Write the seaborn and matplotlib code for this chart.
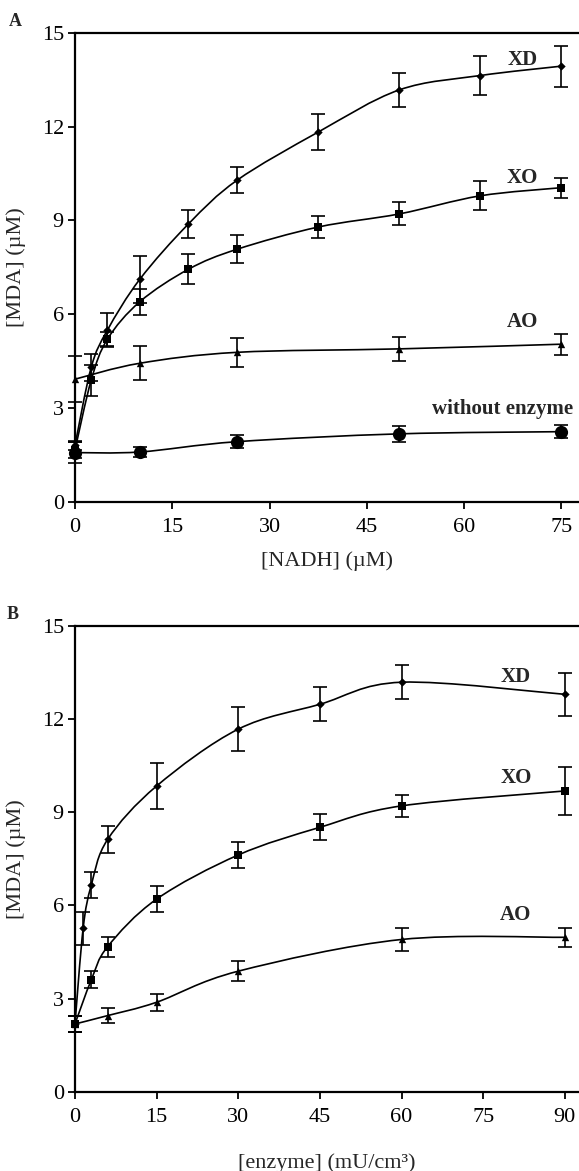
"""
MDA formation: panel A vs NADH, panel B vs enzyme amount
"""
import numpy as np
import matplotlib
matplotlib.use("Agg")
import matplotlib.pyplot as plt
import seaborn as sns
from matplotlib.path import Path
from matplotlib.patches import PathPatch

# ---- panel A data ([NADH] in uM) ----
nadh_x = [0, 2.5, 5, 10, 17.5, 25, 37.5, 50, 62.5, 75]
xd_a = [1.8, 4.3, 5.49, 7.12, 8.89, 10.29, 11.83, 13.18, 13.64, 13.94]
xd_a_err = [0.15, 0.43, 0.55, 0.75, 0.45, 0.42, 0.59, 0.55, 0.63, 0.66]
xo_a = [1.65, 3.89, 5.2, 6.4, 7.44, 8.08, 8.79, 9.21, 9.79, 10.05]
xo_a_err = [0.25, 0.5, 0.22, 0.42, 0.48, 0.44, 0.36, 0.37, 0.46, 0.32]
ao_a_x = [0, 10, 25, 50, 75]
ao_a = [3.92, 4.43, 4.78, 4.89, 5.04]
ao_a_err = [0.73, 0.55, 0.46, 0.39, 0.34]
noenz_x = [0, 10, 25, 50, 75]
noenz = [1.57, 1.59, 1.92, 2.17, 2.24]
noenz_err = [0.33, 0.17, 0.2, 0.25, 0.2]

# ---- panel B data ([enzyme] in mU/cm3) ----
xd_b_x = [0, 1.5, 3, 6, 15, 30, 45, 60, 90]
xd_b = [2.18, 5.26, 6.65, 8.12, 9.84, 11.67, 12.47, 13.18, 12.79]
xd_b_err = [0.25, 0.53, 0.43, 0.43, 0.75, 0.7, 0.55, 0.55, 0.7]
xo_b_x = [0, 3, 6, 15, 30, 45, 60, 90]
xo_b = [2.18, 3.6, 4.67, 6.2, 7.62, 8.51, 9.2, 9.68]
xo_b_err = [0.25, 0.27, 0.32, 0.42, 0.43, 0.42, 0.36, 0.78]
ao_b_x = [0, 6, 15, 30, 60, 90]
ao_b = [2.18, 2.45, 2.88, 3.88, 4.9, 4.97]
ao_b_err = [0.25, 0.25, 0.27, 0.33, 0.37, 0.31]

sns.set_style("ticks")
plt.rcParams['font.family'] = ['Liberation Serif', 'DejaVu Serif']
plt.rcParams['font.size'] = 16


def smooth_curve(ax, x, y):
    """Excel-like smoothed line (Catmull-Rom as cubic Bezier)"""
    pts = np.column_stack([x, y]).astype(float)
    verts = [pts[0]]
    codes = [Path.MOVETO]
    n = len(pts)
    for i in range(n - 1):
        p0 = pts[i - 1] if i > 0 else pts[i]
        p1, p2 = pts[i], pts[i + 1]
        p3 = pts[i + 2] if i + 2 < n else pts[i + 1]
        verts += [p1 + (p2 - p0) / 6, p2 - (p3 - p1) / 6, p2]
        codes += [Path.CURVE4] * 3
    ax.add_patch(PathPatch(Path(verts, codes), facecolor='none',
                           edgecolor='black', lw=1.2, zorder=2))


def draw_series(ax, x, y, err, marker, size):
    smooth_curve(ax, x, y)
    ax.errorbar(x, y, yerr=err, fmt='none', ecolor='black', elinewidth=1.2,
                capsize=5, capthick=1.2, zorder=3, clip_on=False)
    sns.scatterplot(x=x, y=y, marker=marker, s=size, color='black',
                    edgecolor='black', linewidth=0, ax=ax, zorder=4,
                    clip_on=False, legend=False)


def style_axes(ax, xmax, xticks):
    ax.set_xlim(0, xmax)
    ax.set_ylim(0, 15)
    ax.set_xticks(xticks)
    ax.set_yticks([0, 3, 6, 9, 12, 15])
    for side in ['left', 'bottom', 'top']:
        ax.spines[side].set_linewidth(1.6)
        ax.spines[side].set_color('black')
    ax.spines['right'].set_visible(False)
    ax.tick_params(axis='both', direction='out', length=5, width=1.3,
                   labelsize=16, colors='black')
    ax.tick_params(axis='x', pad=7)
    ax.tick_params(axis='y', pad=3)
    ax.set_ylabel('[MDA] (µM)', fontsize=16)
    ax.yaxis.set_label_coords(-0.098, 0.5)


fig = plt.figure(figsize=(5.79, 11.71), dpi=100)

# ---- panel A ----
ax1 = fig.add_axes([0.1295, 0.5716, 0.8705, 0.4002])
draw_series(ax1, nadh_x, xd_a, xd_a_err, 'D', 18)
draw_series(ax1, nadh_x, xo_a, xo_a_err, 's', 30)
draw_series(ax1, ao_a_x, ao_a, ao_a_err, '^', 28)
draw_series(ax1, noenz_x, noenz, noenz_err, 'o', 90)
style_axes(ax1, 77.7, [0, 15, 30, 45, 60, 75])
ax1.set_xlabel('[NADH] (µM)', fontsize=16)
ax1.xaxis.set_label_coords(0.5, -0.105)

lab = dict(fontsize=15, fontweight='bold', ha='center', va='center')
ax1.text(69, 14.13, 'XD', **lab)
ax1.text(69, 10.37, 'XO', **lab)
ax1.text(69, 5.76, 'AO', **lab)
ax1.text(65.9, 2.96, 'without enzyme', **lab)

# ---- panel B ----
ax2 = fig.add_axes([0.1295, 0.0677, 0.8705, 0.398])
draw_series(ax2, xd_b_x, xd_b, xd_b_err, 'D', 18)
draw_series(ax2, xo_b_x, xo_b, xo_b_err, 's', 30)
draw_series(ax2, ao_b_x, ao_b, ao_b_err, '^', 28)
style_axes(ax2, 92.6, [0, 15, 30, 45, 60, 75, 90])
ax2.set_xlabel('[enzyme] (mU/cm³)', fontsize=16)
ax2.xaxis.set_label_coords(0.5, -0.132)

ax2.text(81, 13.34, 'XD', **lab)
ax2.text(81, 10.09, 'XO', **lab)
ax2.text(81, 5.69, 'AO', **lab)

fig.text(15 / 579, 1 - 22 / 1171, 'A', fontsize=13, fontweight='bold',
         ha='center', va='center')
fig.text(13 / 579, 1 - 615 / 1171, 'B', fontsize=13, fontweight='bold',
         ha='center', va='center')

fig.savefig('out.png', dpi=100, facecolor='white')
